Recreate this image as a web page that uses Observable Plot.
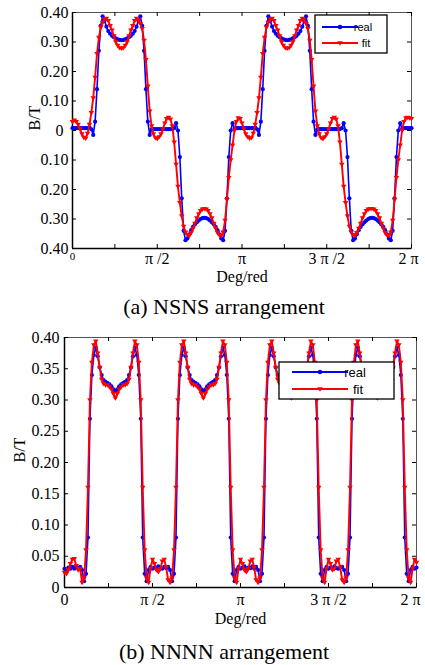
<!DOCTYPE html>
<html><head><meta charset="utf-8">
<script src="https://cdn.jsdelivr.net/npm/d3@7"></script>
<script src="https://cdn.jsdelivr.net/npm/@observablehq/plot@0.6"></script>
<style>
html,body{margin:0;padding:0;background:#fff;}
#wrap{position:relative;width:425px;height:665px;overflow:hidden;background:#fff;}
#wrap svg{position:absolute;left:0;}
.cap{position:absolute;left:0;width:448px;text-align:center;font-family:"Liberation Serif","Times New Roman",serif;font-size:22px;line-height:26px;color:#000;}
</style></head>
<body><div id="wrap"></div>
<script>
// ---------- data (angle grid in degrees, step 2) ----------
const angleDeg = d3.range(0, 361, 2);

// (a) NSNS arrangement
const realA = [
 .008,.008,.008,.008,.008,.008,.008,.008,.008,.010,
 .004,-.015,.030,.140,.270,.355,.387,.372,.352,.337,
 .328,.321,.316,.312,.309,.307,.306,.307,.309,.312,
 .316,.321,.328,.337,.352,.372,.387,.355,.270,.140,
 .030,-.015,.004,.005,.005,.005,.005,.005,.005,.005,
 .005,.005,.005,.005,.008,.025,.000,-.090,-.230,-.340,
 -.372,-.366,-.352,-.338,-.327,-.318,-.311,-.305,-.300,-.297,
 -.296,-.297,-.300,-.305,-.311,-.318,-.327,-.338,-.352,-.366,
 -.372,-.340,-.230,-.090,.000,.025,.005,.008,.008,.008,
 .008,.008,.008,.008,.008,.008,.008,.010,.004,-.015,
 .030,.140,.270,.355,.387,.372,.352,.337,.328,.321,
 .316,.312,.309,.307,.306,.307,.309,.312,.316,.321,
 .328,.337,.352,.372,.387,.355,.270,.140,.030,-.015,
 .004,.005,.005,.005,.005,.005,.005,.005,.005,.005,
 .005,.005,.005,.008,.025,.000,-.090,-.230,-.340,-.372,
 -.366,-.352,-.338,-.327,-.318,-.311,-.305,-.300,-.297,-.296,
 -.297,-.300,-.305,-.311,-.318,-.327,-.338,-.352,-.366,-.372,
 -.340,-.230,-.090,.000,.025,.005,.008,.008,.008,.008,
 .008];
const fitA = [
 .030,.035,.030,.020,.005,-.012,-.024,-.027,-.010,.020,
 .060,.110,.180,.260,.315,.350,.366,.377,.380,.372,
 .355,.340,.320,.300,.288,.280,.278,.280,.288,.300,
 .320,.340,.355,.372,.380,.375,.362,.345,.305,.240,
 .150,.065,.015,-.012,-.025,-.028,-.022,-.012,.005,.025,
 .040,.044,.038,.015,-.040,-.115,-.190,-.245,-.290,-.325,
 -.345,-.353,-.357,-.347,-.332,-.315,-.297,-.283,-.272,-.267,
 -.265,-.267,-.272,-.283,-.297,-.315,-.332,-.347,-.355,-.357,
 -.345,-.305,-.235,-.160,-.100,-.050,.000,.030,.042,.040,
 .025,.005,-.012,-.022,-.027,-.025,-.010,.020,.060,.110,
 .180,.260,.315,.350,.366,.377,.380,.372,.355,.340,
 .320,.300,.288,.280,.278,.280,.288,.300,.320,.340,
 .355,.372,.380,.375,.362,.345,.305,.240,.150,.065,
 .015,-.012,-.025,-.028,-.022,-.012,.005,.025,.040,.044,
 .038,.015,-.040,-.115,-.190,-.245,-.290,-.325,-.345,-.353,
 -.357,-.347,-.332,-.315,-.297,-.283,-.272,-.267,-.265,-.265,
 -.267,-.272,-.283,-.297,-.315,-.332,-.347,-.355,-.357,-.345,
 -.305,-.235,-.160,-.100,-.050,.000,.030,.042,.044,.042,
 .040];

// (b) NNNN arrangement
const realB = [
 .030,.028,.032,.030,.033,.030,.034,.031,.033,.028,
 .010,.022,.080,.270,.340,.372,.384,.370,.352,.340,
 .332,.329,.327,.325,.322,.317,.314,.317,.322,.325,
 .327,.329,.332,.340,.352,.370,.384,.372,.340,.270,
 .080,.022,.010,.028,.033,.030,.032,.030,.034,.031,
 .030,.033,.031,.033,.028,.010,.022,.080,.270,.340,
 .372,.384,.370,.352,.340,.332,.329,.327,.325,.322,
 .317,.314,.317,.322,.325,.327,.329,.332,.340,.352,
 .370,.384,.372,.340,.270,.080,.022,.010,.028,.033,
 .030,.032,.034,.030,.032,.031,.034,.030,.033,.028,
 .010,.022,.080,.270,.340,.372,.384,.370,.352,.340,
 .332,.329,.327,.325,.322,.317,.314,.317,.322,.325,
 .327,.329,.332,.340,.352,.370,.384,.372,.340,.270,
 .080,.022,.010,.028,.033,.030,.032,.030,.034,.031,
 .030,.032,.033,.028,.010,.022,.080,.270,.340,.372,
 .384,.370,.352,.340,.332,.329,.327,.325,.322,.317,
 .314,.317,.322,.325,.327,.329,.332,.340,.352,.370,
 .384,.372,.340,.270,.080,.022,.010,.028,.033,.030,
 .032];
const fitB = [
 .024,.022,.028,.038,.045,.046,.035,.028,.030,.008,
 .015,.060,.160,.300,.360,.388,.394,.375,.352,.333,
 .326,.324,.324,.321,.317,.310,.303,.310,.317,.321,
 .324,.324,.326,.333,.352,.375,.394,.388,.360,.300,
 .160,.060,.015,.008,.030,.045,.038,.028,.025,.030,
 .042,.045,.032,.012,.008,.015,.060,.160,.300,.360,
 .388,.394,.375,.352,.333,.326,.324,.324,.321,.317,
 .310,.303,.310,.317,.321,.324,.324,.326,.333,.352,
 .375,.394,.388,.360,.300,.160,.060,.015,.008,.030,
 .045,.038,.028,.025,.030,.042,.045,.032,.012,.008,
 .015,.060,.160,.300,.360,.388,.394,.375,.352,.333,
 .326,.324,.324,.321,.317,.310,.303,.310,.317,.321,
 .324,.324,.326,.333,.352,.375,.394,.388,.360,.300,
 .160,.060,.015,.008,.030,.045,.038,.028,.030,.042,
 .045,.032,.012,.008,.015,.060,.160,.300,.360,.388,
 .394,.375,.352,.333,.326,.324,.324,.321,.317,.310,
 .303,.310,.317,.321,.324,.324,.326,.333,.352,.375,
 .394,.388,.360,.300,.160,.060,.015,.008,.030,.045,
 .040];

const seriesNames = ["real", "fit"];
const seriesColors = ["#0000ff", "#ff0000"];
const xTickVals = d3.range(0, 9).map(i => i * Math.PI / 4);
const xLabelVals = [0, Math.PI / 2, Math.PI, 3 * Math.PI / 2, 2 * Math.PI];
const xLabelText = ["0", "π /2", "π", "3 π /2", "2 π"];
const yTicksA = [-0.4, -0.3, -0.2, -0.1, 0, 0.1, 0.2, 0.3, 0.4];
const yTicksB = [0, 0.05, 0.1, 0.15, 0.2, 0.25, 0.3, 0.35, 0.4];
const xTitle = "Deg/red", yTitle = "B/T";
const captions = ["(a) NSNS arrangement", "(b) NNNN arrangement"];

// ---------- drawing ----------
const triDown = {draw(ctx, size) {
  const r = Math.sqrt(size / Math.PI);
  ctx.moveTo(-r * 1.1, -r * 0.7);
  ctx.lineTo(r * 1.1, -r * 0.7);
  ctx.lineTo(0, r * 1.05);
  ctx.closePath();
}};
const serif = '"Liberation Serif", "Times New Roman", serif';
const sans = '"Liberation Sans", Arial, sans-serif';

function panel(o) {
  const data = angleDeg.map((d, i) => ({t: d * Math.PI / 180, real: o.real[i], fit: o.fit[i]}));
  const W = 425 - o.ml - o.mr, H = o.height - o.mt - o.mb;
  const svg = Plot.plot({
    width: 425, height: o.height,
    marginLeft: o.ml, marginRight: o.mr, marginTop: o.mt, marginBottom: o.mb,
    style: {fontFamily: serif, fontSize: "16px", color: "#000", background: "transparent", overflow: "visible"},
    x: {domain: [0, 2 * Math.PI], ticks: xLabelVals,
        tickFormat: d => xLabelText[xLabelVals.findIndex(v => Math.abs(v - d) < 1e-9)],
        tickSize: 0, tickPadding: o.xPad, label: null},
    y: {domain: o.yDomain, ticks: o.yTicks,
        tickFormat: d => d === 0 ? "0" : Math.abs(d).toFixed(2),
        tickSize: 0, tickPadding: o.yPad, label: null},
    marks: [
      Plot.frame({stroke: "#555"}),
      Plot.ruleX(xTickVals, {insetTop: H - 4, stroke: "#000"}),
      Plot.ruleX(xTickVals, {insetBottom: H - 4, stroke: "#000"}),
      Plot.ruleY(o.yTicks, {insetRight: W - 4, stroke: "#000"}),
      Plot.ruleY(o.yTicks, {insetLeft: W - 4, stroke: "#000"}),
      Plot.ruleY([o.yDomain[0]], {stroke: "#000", strokeWidth: 1.5}),
      Plot.ruleX([0], {stroke: "#000", strokeWidth: 1.5}),
      Plot.line(data, {x: "t", y: "real", stroke: seriesColors[0], strokeWidth: 1.6}),
      Plot.dot(data, {x: "t", y: "real", r: 2.1, fill: seriesColors[0]}),
      Plot.line(data, {x: "t", y: "fit", stroke: seriesColors[1], strokeWidth: 1.9}),
      Plot.dot(data, {x: "t", y: "fit", r: 2.5, fill: seriesColors[1], symbol: triDown}),
      Plot.text([xTitle], {text: d => d, frameAnchor: "bottom", lineAnchor: "middle", dy: o.xTitleDy, fontSize: 16}),
      Plot.text([yTitle], {text: d => d, frameAnchor: "left", dx: o.yTitleDx, rotate: -90, fontSize: 16})
    ]
  });
  // small tweaks of the axis text like the original figure
  d3.select(svg).selectAll("text").each(function() {
    const p = this.closest("[aria-label]");
    const lab = p ? p.getAttribute("aria-label") : "";
    if (this.textContent === "0" && lab.startsWith("x-axis") && o.smallZero) this.setAttribute("font-size", "11px");
    if (this.textContent === "0" && lab.startsWith("y-axis") && o.zeroShift) this.setAttribute("dx", o.zeroShift);
    if (this.textContent === "2 π" && lab.startsWith("x-axis")) this.setAttribute("dx", o.endShift);
  });
  // legend
  const L = o.legend;
  const g = d3.select(svg).append("g").attr("font-family", sans).attr("font-size", L.fs);
  g.append("rect").attr("x", L.x).attr("y", L.y).attr("width", L.w).attr("height", L.h)
    .attr("fill", "#fff").attr("stroke", "#000").attr("stroke-width", 1.3);
  seriesNames.forEach((name, i) => {
    const yy = L.rows[i];
    g.append("line").attr("x1", L.l0).attr("x2", L.l1).attr("y1", yy).attr("y2", yy)
      .attr("stroke", seriesColors[i]).attr("stroke-width", 2);
    const mx = (L.l0 + L.l1) / 2;
    if (i === 0) g.append("circle").attr("cx", mx).attr("cy", yy).attr("r", 2.3).attr("fill", seriesColors[i]);
    else g.append("path").attr("transform", `translate(${mx},${yy})`).attr("d", d3.symbol(triDown, Math.PI * 2.6 * 2.6)()).attr("fill", seriesColors[i]);
    g.append("text").attr("x", L.tx[i]).attr("y", yy).attr("dy", "0.35em").attr("fill", "#000").text(name);
  });
  return svg;
}

const wrap = document.getElementById("wrap");
const svgA = panel({
  real: realA, fit: fitA, yDomain: [-0.4, 0.4], yTicks: yTicksA,
  height: 290, mt: 12, mb: 42, ml: 72, mr: 14, xPad: 4, yPad: 4,
  xTitleDy: 28, yTitleDx: -38, smallZero: true, zeroShift: -5, endShift: -3,
  legend: {x: 315, y: 15, w: 72, h: 38, rows: [27, 43], l0: 322, l1: 358, tx: [363, 366], fs: 11}
});
svgA.style.top = "0px";
wrap.appendChild(svgA);

const svgB = panel({
  real: realB, fit: fitB, yDomain: [0, 0.4], yTicks: yTicksB,
  height: 312, mt: 17, mb: 45, ml: 64, mr: 9, xPad: 6, yPad: 5,
  xTitleDy: 31, yTitleDx: -45, smallZero: false, zeroShift: null, endShift: -6,
  legend: {x: 279, y: 42, w: 115, h: 37, rows: [52, 69], l0: 292, l1: 348, tx: [355, 358], fs: 13}
});
svgB.style.top = "320px";
wrap.appendChild(svgB);

captions.forEach((c, i) => {
  const div = document.createElement("div");
  div.className = "cap";
  div.style.top = (i === 0 ? 294 : 639) + "px";
  div.textContent = c;
  wrap.appendChild(div);
});
</script>
</body></html>
